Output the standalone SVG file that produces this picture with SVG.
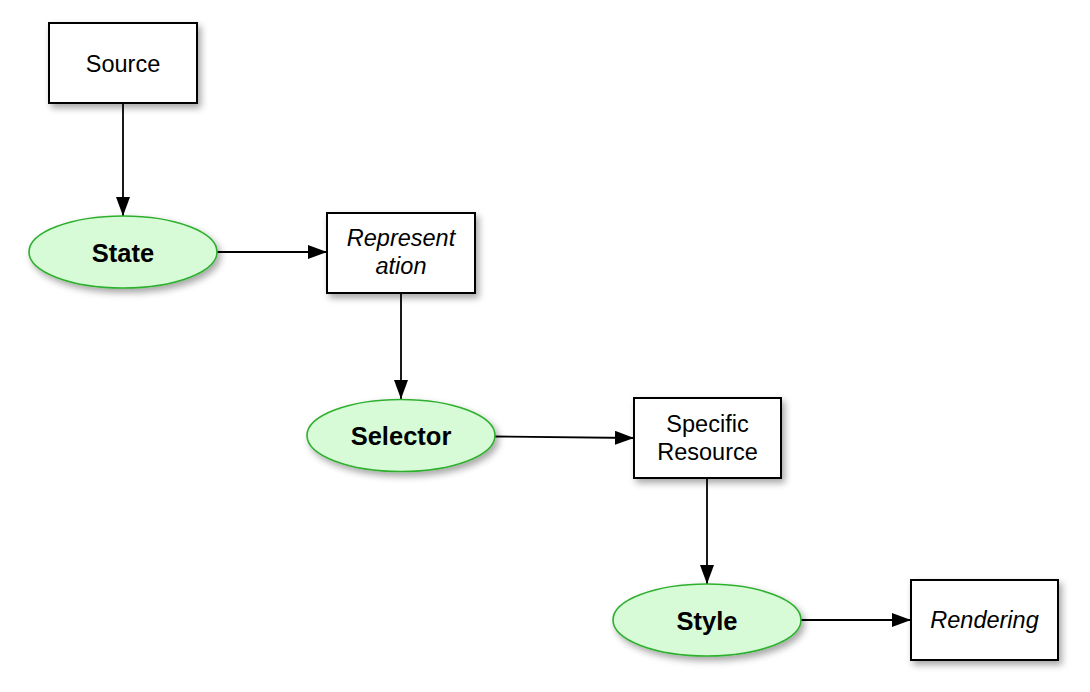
<svg xmlns="http://www.w3.org/2000/svg" width="1090" height="692" viewBox="0 0 1090 692">
<style>
.box{fill:#fff;stroke:#000;stroke-width:2}
.oval{fill:#d6fbd6;stroke:#2eb02e;stroke-width:1.6}
.t{font-family:"Liberation Sans",Arial,sans-serif;font-size:23.5px;fill:#000;text-anchor:middle}
.i{font-style:italic}
.b{font-weight:bold;font-size:25.5px}
.edge{stroke:#000;stroke-width:1.8;fill:none;marker-end:url(#ah)}
</style>
<defs>
<filter id="sh" x="-20%" y="-20%" width="150%" height="160%">
<feDropShadow dx="3" dy="4" stdDeviation="3.5" flood-color="#000" flood-opacity="0.35"/>
</filter>
<marker id="ah" viewBox="0 0 19 14" refX="19" refY="7" markerWidth="19" markerHeight="14" markerUnits="userSpaceOnUse" orient="auto">
<path d="M0,0 L19,7 L0,14 Z" fill="#000"/>
</marker>
</defs>
<g id="connectors">
<line class="edge" x1="123" y1="103" x2="123" y2="216"/>
<line class="edge" x1="217" y1="252" x2="327" y2="252"/>
<line class="edge" x1="401" y1="293" x2="401" y2="399"/>
<line class="edge" x1="495" y1="436.5" x2="634" y2="438"/>
<line class="edge" x1="707" y1="479" x2="707" y2="584"/>
<line class="edge" x1="801" y1="620" x2="911" y2="620"/>
</g>
<g id="source">
<rect class="box" x="49" y="23" width="148" height="80" filter="url(#sh)"/>
<text class="t" x="123" y="71.5">Source</text>
</g>
<g id="state">
<ellipse class="oval" cx="123" cy="252" rx="94" ry="36" filter="url(#sh)"/>
<text class="t b" x="123" y="261.5">State</text>
</g>
<g id="representation">
<rect class="box" x="327" y="213" width="148" height="80" filter="url(#sh)"/>
<text class="t i" x="401" y="246">Represent</text>
<text class="t i" x="401" y="274">ation</text>
</g>
<g id="selector">
<ellipse class="oval" cx="401" cy="435.5" rx="94" ry="36" filter="url(#sh)"/>
<text class="t b" x="401" y="445">Selector</text>
</g>
<g id="specific-resource">
<rect class="box" x="634" y="398" width="147" height="80" filter="url(#sh)"/>
<text class="t" x="707.5" y="431.5">Specific</text>
<text class="t" x="707.5" y="459.5">Resource</text>
</g>
<g id="style">
<ellipse class="oval" cx="707" cy="620" rx="94" ry="36" filter="url(#sh)"/>
<text class="t b" x="707" y="629.5">Style</text>
</g>
<g id="rendering">
<rect class="box" x="911" y="580" width="147" height="80" filter="url(#sh)"/>
<text class="t i" x="984.5" y="627.5">Rendering</text>
</g>
</svg>
